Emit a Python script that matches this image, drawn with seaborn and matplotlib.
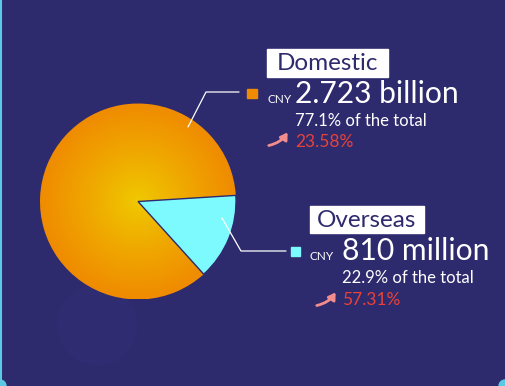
import numpy as np
import matplotlib
matplotlib.use("Agg")
import matplotlib.pyplot as plt
import seaborn as sns
from matplotlib.colors import LinearSegmentedColormap
from matplotlib.patches import Rectangle, Circle, FancyArrowPatch

# ============================================================================
# DATA
# ============================================================================
segments = ["Overseas", "Domestic"]
# slice shares as drawn in the picture (degrees of the pie converted to %)
slice_share = [14.3, 85.7]
amounts = ["810 million", "2.723 billion"]
share_text = ["22.9% of the total", "77.1% of the total"]
growth = ["57.31%", "23.58%"]

# ============================================================================
# STYLE
# ============================================================================
BG = "#2E2A6E"
CYAN = "#7DFAFE"
ORANGE_IN = "#EFC800"
ORANGE_OUT = "#EF8B00"
RED = "#E8423A"
W, H = 505, 386

sns.set_theme(style="white")
plt.rcParams["font.family"] = ["Lato", "DejaVu Sans"]

fig = plt.figure(figsize=(W / 100, H / 100), dpi=100, facecolor=BG)
ax = fig.add_axes([0, 0, 1, 1])
ax.set_facecolor(BG)


def Y(y):
    # image row -> data y
    return H - y


# faint shadow disc under the pie
ax.add_patch(Circle((97, Y(325)), 40, color="#302C72", zorder=0))

# frame accents
ax.plot([0.5, 0.5], [0, H], color="#5CC9E2", lw=1.5, zorder=1)
ax.add_patch(Circle((0, 0), 6, color="#5CC9E2", zorder=1))
ax.add_patch(Circle((W, 0), 6, color="#5CC9E2", zorder=1))

# ============================================================================
# PIE
# ============================================================================
cx, cy, r = 138, Y(201.5), 98
wedges, _ = ax.pie(
    slice_share,
    colors=[CYAN, ORANGE_OUT],
    startangle=-47.9,
    counterclock=True,
    explode=[0.04, 0],
    center=(cx, cy),
    radius=r,
    frame=True,
    wedgeprops=dict(linewidth=0),
)
wedges[0].set_edgecolor(BG)
wedges[0].set_linewidth(1.0)
wedges[0].set_zorder(3)

# radial gradient on the domestic wedge
gx = np.linspace(-1, 1, 300)
gxx, gyy = np.meshgrid(gx, gx)
dist = np.clip(np.sqrt(gxx ** 2 + gyy ** 2), 0, 1)
cmap = LinearSegmentedColormap.from_list("og", [ORANGE_IN, "#F0A800", ORANGE_OUT])
img = ax.imshow(dist, cmap=cmap, extent=[cx - r, cx + r, cy - r, cy + r],
                origin="lower", zorder=2, vmin=0, vmax=1)
img.set_clip_path(wedges[1])
wedges[1].set_facecolor("none")

ax.set_xlim(0, W)
ax.set_ylim(0, H)
ax.set_aspect("equal")
ax.axis("off")

# ============================================================================
# LABELS
# ============================================================================
# leader lines
ax.plot([188, 206, 239], [Y(127), Y(92), Y(92)], color="white", lw=0.9, zorder=4)
ax.plot([222, 241, 286], [Y(218), Y(251), Y(251)], color="white", lw=0.9, zorder=4)

# colour squares
ax.add_patch(Rectangle((247, Y(98)), 9.5, 9.5, color=ORANGE_OUT, zorder=4))
ax.add_patch(Rectangle((290.5, Y(256)), 9.5, 9.5, color=CYAN, zorder=4))

blocks = [
    dict(i=1, box=(267, 49, 121, 28), cny_x=267, amt_x=295, base=(103, 126, 147),
         arrow=((266, 146), (289, 130))),
    dict(i=0, box=(310, 206, 114, 27), cny_x=310, amt_x=342, base=(260, 283, 305),
         arrow=((314, 306), (337, 290))),
]

for b in blocks:
    i = b["i"]
    bx, by, bw, bh = b["box"]
    ax.add_patch(Rectangle((bx, Y(by + bh)), bw, bh, color="white", zorder=4))
    ax.text(bx + bw / 2, Y(by + bh / 2) - 1, segments[i], color=BG, fontsize=17.5,
            ha="center", va="center", zorder=5)
    b1, b2, b3 = b["base"]
    ax.text(b["cny_x"], Y(b1), "CNY", color="white", fontsize=8.5,
            ha="left", va="baseline", zorder=5)
    ax.text(b["amt_x"], Y(b1), amounts[i], color="white", fontsize=21.6,
            ha="left", va="baseline", zorder=5)
    ax.text(b["amt_x"], Y(b2), share_text[i], color="white", fontsize=12,
            ha="left", va="baseline", zorder=5)
    ax.text(b["amt_x"], Y(b3), growth[i], color=RED, fontsize=12.5,
            ha="left", va="baseline", zorder=5)
    (x0, y0), (x1, y1) = b["arrow"]
    ax.add_patch(FancyArrowPatch((x0, Y(y0)), (x1, Y(y1)),
                                 connectionstyle="arc3,rad=0.25",
                                 arrowstyle="-|>,head_length=4,head_width=2.5",
                                 color="#F38C8C", lw=2, zorder=5))

fig.savefig("out.png", dpi=100, facecolor=BG)
